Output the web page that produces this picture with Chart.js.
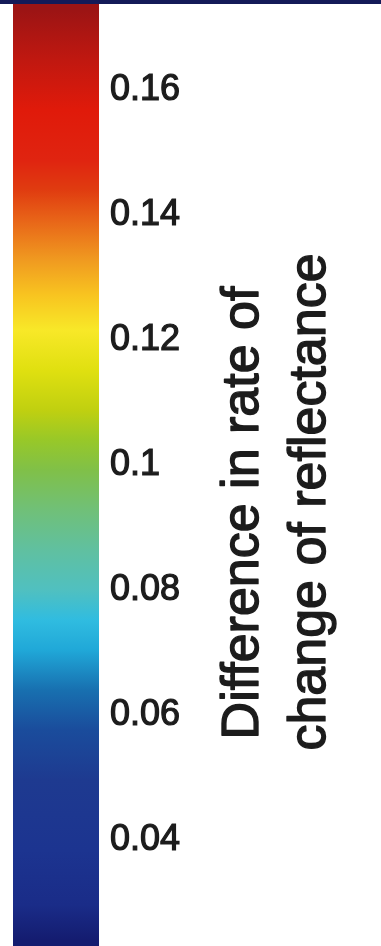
<!DOCTYPE html>
<html>
<head>
<meta charset="utf-8">
<script src="https://cdn.jsdelivr.net/npm/chart.js@4"></script>
<style>
  html, body { margin: 0; padding: 0; background: #ffffff; }
  #band { width: 381px; height: 4px; background: #141a58; }
  #wrap { position: relative; width: 381px; height: 942px; }
</style>
</head>
<body>
<div id="band"></div>
<div id="wrap"><canvas id="cbar"></canvas></div>
<script>
// Colour scale range of the bar
const rangeMin = 0.02304;
const rangeMax = 0.17376;

// Colour stops along the scale (value -> colour)
const stopValues = [0.0240, 0.0296, 0.0384, 0.0496, 0.0576, 0.0640, 0.0704, 0.0752,
                    0.0800, 0.0864, 0.0928, 0.0992, 0.1040, 0.1088, 0.1152, 0.1216,
                    0.1272, 0.1328, 0.1392, 0.1440, 0.1488, 0.1568, 0.1648, 0.1728];
const stopColors = ['#141c70', '#1a2c88', '#1c3490', '#1e3a90', '#1a4c9c', '#1870b0', '#20a8d8', '#30bce0',
                    '#50c0c0', '#60c0a0', '#70c078', '#80c048', '#98c828', '#c0d010', '#e0e010', '#f8e828',
                    '#f8c420', '#f09a20', '#e86418', '#e03c10', '#e02410', '#e01a0a', '#c01810', '#9c1414'];

// Tick positions and their labels
const tickValues = [0.04, 0.06, 0.08, 0.10, 0.12, 0.14, 0.16];
const tickLabels = ['0.04', '0.06', '0.08', '0.1', '0.12', '0.14', '0.16'];

// Axis title, one entry per line
const titleLines = ['Difference in rate of', 'change of reflectance'];

const categories = [''];
const barRange = [[rangeMin, rangeMax]];

const inkColor = '#1c1c1c';

function barGradient(context) {
  const chart = context.chart;
  const area = chart.chartArea;
  if (!area) return stopColors[0];
  const y = chart.scales.y;
  const pLow = y.getPixelForValue(rangeMin);
  const pHigh = y.getPixelForValue(rangeMax);
  const g = chart.ctx.createLinearGradient(0, pLow, 0, pHigh);
  stopValues.forEach((v, i) => {
    const t = (v - rangeMin) / (rangeMax - rangeMin);
    g.addColorStop(Math.min(1, Math.max(0, t)), stopColors[i]);
  });
  return g;
}

// Draws the two-line rotated axis title to the right of the tick labels
const titlePlugin = {
  id: 'cbarTitle',
  afterDraw(chart) {
    const c = chart.ctx;
    const y = chart.scales.y;
    const centre = (y.getPixelForValue(rangeMin) + y.getPixelForValue(rangeMax)) / 2;
    const lineMids = [centre + 38, centre + 27];
    const baselines = [y.left + 159, y.left + 226];
    c.save();
    c.fillStyle = inkColor;
    c.strokeStyle = inkColor;
    c.lineWidth = 1.4;
    c.lineJoin = 'round';
    c.font = '52px "Liberation Sans", Arial, sans-serif';
    c.textAlign = 'center';
    c.textBaseline = 'alphabetic';
    titleLines.forEach((line, i) => {
      c.save();
      c.translate(baselines[i], lineMids[i]);
      c.rotate(-Math.PI / 2);
      c.fillText(line, 0, 0);
      c.strokeText(line, 0, 0);
      c.restore();
    });
    c.restore();
  }
};

new Chart(document.getElementById('cbar'), {
  type: 'bar',
  data: {
    labels: categories,
    datasets: [{
      data: barRange,
      backgroundColor: barGradient,
      borderWidth: 0,
      barPercentage: 1,
      categoryPercentage: 1
    }]
  },
  options: {
    responsive: true,
    maintainAspectRatio: false,
    animation: false,
    events: [],
    layout: { padding: { left: 13, right: 0, top: 0, bottom: 0 } },
    plugins: { legend: { display: false }, tooltip: { enabled: false } },
    scales: {
      x: { display: false },
      y: {
        position: 'right',
        min: rangeMin,
        max: rangeMax,
        grid: { display: false, drawTicks: false },
        border: { display: false },
        afterBuildTicks(scale) {
          scale.ticks = tickValues.map(v => ({ value: v }));
        },
        afterFit(scale) {
          scale.width = 282;
          scale.paddingTop = 0;
          scale.paddingBottom = 0;
        },
        ticks: {
          padding: 11,
          color: inkColor,
          textStrokeColor: inkColor,
          textStrokeWidth: 1.2,
          font: { family: '"Liberation Sans", Arial, sans-serif', size: 36 },
          callback(value, index) { return tickLabels[index]; }
        }
      }
    }
  },
  plugins: [titlePlugin]
});
</script>
</body>
</html>
